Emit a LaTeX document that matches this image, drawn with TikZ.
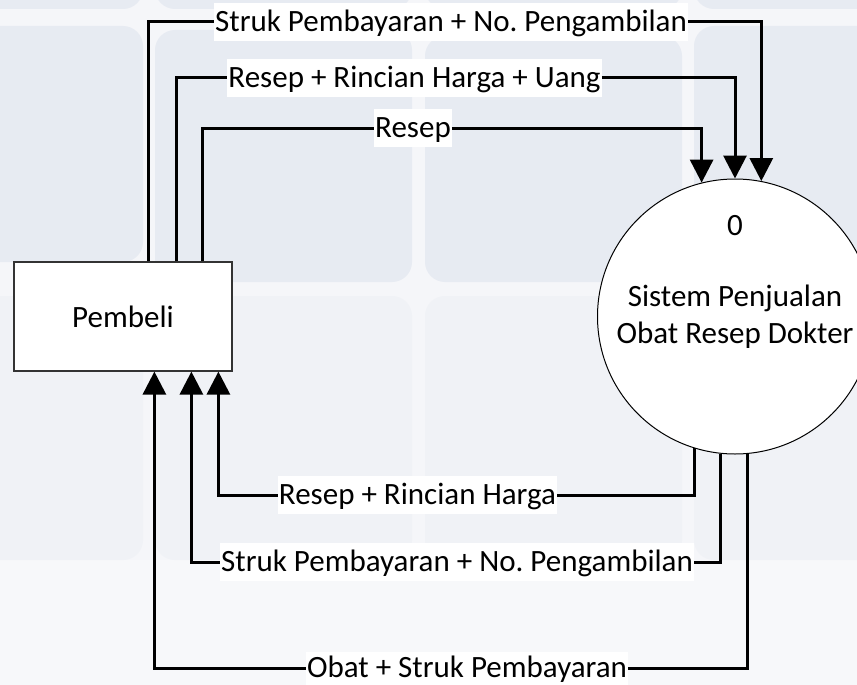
\documentclass[tikz,border=0pt]{standalone}
\usepackage{fontspec}
\setmainfont{Carlito}
\usetikzlibrary{arrows.meta,calc}
\definecolor{tile}{HTML}{E7EBF2}
\definecolor{tilelight}{HTML}{F0F2F6}
\definecolor{gap}{HTML}{F5F6F9}
\definecolor{lowbg}{HTML}{F7F8FA}
\begin{document}
\frenchspacing
\begin{tikzpicture}[x=1pt,y=-1pt,
  font=\fontsize{31pt}{37pt}\selectfont,
  flow/.style={line width=3pt},
  flowarrow/.style={line width=3pt,-{Triangle[width=23pt,length=23pt]}},
  lbl/.style={fill=white,inner xsep=1pt,inner ysep=3pt,text height=25pt,text depth=6.5pt},
  entity/.style={draw=black!80,line width=1.2pt,fill=white,minimum width=218pt,minimum height=109pt,inner sep=0pt},
  process/.style={circle,draw=black,line width=1pt,fill=white,minimum size=275pt,inner sep=0pt},
  tilebox/.style={fill=tile,rounded corners=20pt},
  tileboxl/.style={fill=tilelight,rounded corners=20pt}]
\useasboundingbox (0,0) rectangle (857,685);
\clip (0,0) rectangle (857,685);
% background watermark tiles
\fill[gap] (0,0) rectangle (857,685);
\fill[lowbg] (0,560) rectangle (857,685);
\fill[tilebox] (-30,-40) rectangle (143,9);
\fill[tilebox] (155,-40) rectangle (412,9);
\fill[tilebox] (425,-40) rectangle (682,9);
\fill[tilebox] (694,-40) rectangle (900,9);
\fill[tilebox] (-30,26) rectangle (143,262);
\fill[tilebox] (155,30) rectangle (412,282);
\fill[tilebox] (425,36) rectangle (682,282);
\fill[tilebox] (694,26) rectangle (900,282);
\fill[tileboxl] (-30,296) rectangle (143,560);
\fill[tileboxl] (155,296) rectangle (412,560);
\fill[tileboxl] (425,296) rectangle (682,560);
\fill[tileboxl] (694,296) rectangle (900,560);
% nodes
\node[entity] (pem) at (123,316.5) {Pembeli};
\node[process] (proc) at (735,316.5) {};
\node (pnum) at (735,226) {0};
\node[align=center] (pname) at (735,317) {Sistem Penjualan\\Obat Resep Dokter};
% labels
\node[lbl] (l1) at (451,22) {Struk Pembayaran + No. Pengambilan};
\node[lbl] (l2) at (414.5,78) {Resep + Rincian Harga + Uang};
\node[lbl] (l3) at (413,128) {Resep};
\node[lbl] (la) at (417.5,495) {Resep + Rincian Harga};
\node[lbl] (lb) at (457,562) {Struk Pembayaran + No. Pengambilan};
\node[lbl,inner ysep=1pt,text depth=6pt] (lc) at (467,668) {Obat + Struk Pembayaran};
% top flows
\draw[flow] ([xshift=135pt]pem.north west) |- (l1.west);
\draw[flowarrow] (l1.east) -| (proc.79.6);
\draw[flow] ([xshift=163pt]pem.north west) |- (l2.west);
\draw[flowarrow] (l2.east) -| (proc.90);
\draw[flow] ([xshift=189pt]pem.north west) |- (l3.west);
\draw[flowarrow] (l3.east) -| (proc.104.3);
% bottom flows
\draw[flow] (proc.253.15) |- (la.east);
\draw[flowarrow] (la.west) -| ([xshift=205pt]pem.south west);
\draw[flow] (proc.264.2) |- (lb.east);
\draw[flowarrow] (lb.west) -| ([xshift=178pt]pem.south west);
\draw[flow] (proc.275.8) |- (lc.east);
\draw[flowarrow] (lc.west) -| ([xshift=141pt]pem.south west);
\end{tikzpicture}
\end{document}
